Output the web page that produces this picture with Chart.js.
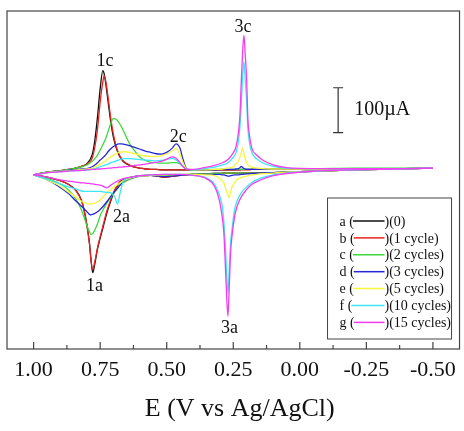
<!DOCTYPE html>
<html lang="en">
<head>
<meta charset="UTF-8">
<title>Cyclic voltammograms</title>
<style>
    body { margin: 0; background: #fff; }
    .chart-container { position: relative; width: 464px; height: 431px; }
</style>
<script src="https://cdn.jsdelivr.net/npm/chart.js"></script>
</head>
<body>
<div class="chart-container"><canvas id="plot"></canvas></div>
<script>
// potentials (V) for the forward (upper) and reverse (lower) branches
const upperE = [1.00, 0.96, 0.92, 0.88, 0.85, 0.82, 0.80, 0.78, 0.77, 0.76,
    0.75, 0.74, 0.735, 0.73, 0.72, 0.71, 0.70, 0.69, 0.68, 0.67,
    0.66, 0.64, 0.62, 0.60, 0.58, 0.56, 0.54, 0.52, 0.50, 0.48,
    0.465, 0.45, 0.44, 0.43, 0.42, 0.40, 0.36, 0.32, 0.29, 0.27,
    0.25, 0.24, 0.23, 0.225, 0.22, 0.215, 0.21, 0.205, 0.20, 0.195,
    0.19, 0.18, 0.16, 0.14, 0.10, 0.05, -0.05, -0.20, -0.35, -0.50];
const lowerE = [-0.50, -0.35, -0.20, -0.05, 0.05, 0.10, 0.15, 0.18, 0.20, 0.22,
    0.235, 0.245, 0.255, 0.26, 0.265, 0.27, 0.275, 0.28, 0.285, 0.29,
    0.30, 0.32, 0.35, 0.40, 0.45, 0.51, 0.56, 0.60, 0.63, 0.65,
    0.665, 0.675, 0.685, 0.695, 0.71, 0.725, 0.74, 0.75, 0.76, 0.77,
    0.778, 0.785, 0.79, 0.80, 0.81, 0.82, 0.84, 0.87, 0.91, 0.95,
    1.00];

// currents (uA)
const upperA = [-7, -2, 1, 4, 7, 12, 18, 38, 70, 122,
    185, 225, 218, 200, 155, 110, 76, 54, 38, 28,
    21, 14, 10, 8, 6, 5, 5, 4, 4, 4,
    4, 4, 4, 4, 4, 4, 4, 4, 4, 4,
    4, 4, 4, 4, 5, 5, 5, 5, 5, 5,
    5, 5, 5, 5, 6, 6, 7, 7, 7, 8];
const lowerA = [8, 6, 4, 1, -1, -2, -3, -3, -3, -3,
    -3, -3, -3, -3, -3, -3, -3, -3, -3, -3,
    -4, -4, -5, -6, -8, -12, -8, -9, -12, -15,
    -18, -23, -32, -42, -65, -92, -126, -148, -172, -205,
    -225, -192, -160, -118, -86, -64, -42, -28, -18, -12,
    -7];
const upperB = [-7, -2, 1, 4, 7, 12, 17, 30, 55, 95,
    155, 200, 214, 205, 165, 118, 82, 57, 40, 29,
    22, 15, 10, 8, 6, 5, 5, 4, 4, 4,
    4, 4, 4, 4, 4, 4, 4, 4, 4, 4,
    4, 4, 4, 4, 4, 4, 4, 4, 4, 4,
    4, 5, 5, 5, 5, 6, 6, 7, 7, 8];
const lowerB = [8, 6, 4, 1, -1, -2, -3, -3, -3, -3,
    -3, -3, -3, -3, -3, -3, -3, -3, -3, -3,
    -4, -4, -5, -6, -8, -12, -8, -9, -12, -15,
    -18, -22, -30, -40, -62, -88, -122, -145, -170, -200,
    -218, -195, -162, -120, -88, -65, -43, -28, -18, -12,
    -7];
const upperC = [-7, -2, 1, 4, 7, 11, 15, 23, 29, 37,
    48, 60, 66, 73, 90, 108, 119, 117, 110, 100,
    88, 63, 46, 32, 25, 21, 20, 19, 19, 20,
    20, 17, 12, 7, 5, 4, 4, 5, 5, 5,
    5, 5, 5, 5, 5, 5, 5, 5, 5, 5,
    5, 5, 5, 5, 6, 7, 7, 8, 8, 8];
const lowerC = [8, 6, 4, 1, -1, -2, -3, -3, -3, -3,
    -3, -3, -3, -3, -3, -3, -3, -3, -3, -3,
    -4, -4, -5, -5, -7, -9, -8, -10, -15, -20,
    -25, -29, -37, -45, -57, -70, -86, -98, -116, -130,
    -138, -140, -134, -120, -102, -86, -62, -40, -24, -15,
    -7];
const upperD = [-7, -3, 0, 2, 4, 6, 7, 11, 15, 20,
    26, 31, 34, 37, 45, 51, 56, 60, 62, 62,
    61, 58, 54, 50, 46, 43, 40, 39, 43, 52,
    62, 52, 30, 12, 5, 4, 4, 4, 5, 5,
    5, 6, 7, 9, 12, 10, 7, 6, 5, 5,
    5, 5, 5, 5, 5, 6, 7, 7, 7, 8];
const lowerD = [8, 6, 4, 1, -1, -2, -3, -4, -5, -6,
    -7, -7, -8, -9, -10, -10, -9, -8, -7, -7,
    -6, -6, -6, -6, -8, -11, -8, -10, -14, -18,
    -23, -30, -37, -44, -55, -67, -78, -84, -89, -93,
    -95, -96, -95, -89, -83, -77, -66, -48, -31, -18,
    -7];
const upperE5 = [-7, -3, 0, 2, 3, 5, 6, 8, 11, 14,
    17, 20, 22, 24, 29, 33, 37, 40, 43, 44,
    45, 43, 40, 37, 35, 34, 34, 36, 40, 46,
    52, 38, 22, 10, 6, 4, 4, 5, 6, 8,
    11, 17, 25, 33, 43, 53, 40, 28, 21, 16,
    13, 10, 8, 7, 6, 6, 6, 7, 7, 8];
const lowerE5 = [8, 6, 4, 1, -1, -3, -5, -7, -10, -13,
    -17, -24, -35, -44, -58, -52, -45, -35, -26, -21,
    -15, -9, -7, -6, -6, -7, -8, -10, -13, -17,
    -21, -25, -29, -33, -40, -47, -57, -63, -67, -70,
    -71, -72, -72, -71, -69, -66, -57, -45, -29, -18,
    -7];
const upperF = [-7, -3, -1, 1, 2, 3, 4, 5, 7, 9,
    11, 13, 14, 15, 17, 20, 22, 24, 26, 28,
    29, 29, 28, 27, 26, 25, 24, 25, 27, 30,
    26, 19, 12, 7, 5, 4, 7, 10, 15, 20,
    32, 42, 70, 100, 150, 210, 245, 205, 160, 95,
    68, 42, 28, 20, 12, 8, 7, 7, 7, 8];
const lowerF = [8, 6, 4, 1, -3, -7, -15, -24, -34, -47,
    -64, -84, -130, -158, -215, -270, -225, -160, -115, -82,
    -56, -28, -14, -8, -6, -6, -7, -9, -12, -15,
    -24, -47, -72, -56, -47, -46, -45, -44, -44, -44,
    -44, -44, -44, -44, -44, -43, -39, -34, -25, -17,
    -7];
const upperG = [-7, -3, -1, 1, 2, 3, 4, 5, 5, 6,
    6, 7, 7, 7, 8, 8, 9, 9, 10, 10,
    11, 12, 14, 15, 17, 19, 21, 23, 28, 33,
    30, 20, 12, 7, 5, 5, 9, 14, 20, 27,
    42, 55, 90, 125, 200, 265, 304, 260, 210, 116,
    85, 52, 36, 26, 15, 9, 7, 7, 7, 8];
const lowerG = [8, 6, 4, 1, -4, -9, -19, -28, -40, -56,
    -76, -100, -145, -180, -255, -322, -275, -205, -140, -108,
    -70, -33, -16, -8, -6, -6, -7, -9, -12, -14,
    -16, -18, -21, -24, -30, -36, -32, -30, -29, -28,
    -27, -27, -26, -26, -25, -25, -23, -21, -17, -12,
    -7];

const seriesKeys = ['a', 'b', 'c', 'd', 'e', 'f', 'g'];
const seriesNotes = ['(0)', '(1 cycle)', '(2 cycles)', '(3 cycles)', '(5 cycles)', '(10 cycles)', '(15 cycles)'];
const seriesColors = ['#111111', '#e8231f', '#3cd93c', '#2626d6', '#f7f73a', '#3ae6f7', '#f23df2'];
const upperSets = [upperA, upperB, upperC, upperD, upperE5, upperF, upperG];
const lowerSets = [lowerA, lowerB, lowerC, lowerD, lowerE5, lowerF, lowerG];

const majorTicks = [1.00, 0.75, 0.50, 0.25, 0.00, -0.25, -0.50];
const minorTicks = [0.875, 0.625, 0.375, 0.125, -0.125, -0.375];

// peak labels placed at (E, I)
const peakNames = ['1c', '2c', '3c', '1a', '2a', '3a'];
const peakE = [0.732, 0.457, 0.213, 0.771, 0.670, 0.264];
const peakI = [247, 77, 321, -256, -102, -348];

// 100 uA scale bar
const scaleBarE = -0.144;
const scaleBarFrom = 87;
const scaleBarTo = 187;
const scaleBarText = '100\u00b5A';

const serif = '"Liberation Serif", "Times New Roman", serif';

const datasets = [];
seriesKeys.forEach((k, i) => {
    [[upperE, upperSets[i]], [lowerE, lowerSets[i]]].forEach(([es, is]) => {
        datasets.push({
            data: es.map((e, j) => ({ x: e, y: is[j] })),
            showLine: true,
            borderColor: seriesColors[i],
            borderWidth: 1.3,
            pointRadius: 0,
            cubicInterpolationMode: 'monotone',
            fill: false,
            order: seriesKeys.length - i
        });
    });
});

const decorations = {
    id: 'decorations',
    afterDatasetsDraw(chart) {
        const ctx = chart.ctx;
        const area = chart.chartArea;
        const xs = chart.scales.x;
        const ys = chart.scales.y;
        ctx.save();

        // frame and inward ticks
        ctx.strokeStyle = '#444';
        ctx.lineWidth = 1.2;
        ctx.strokeRect(area.left, area.top, area.right - area.left, area.bottom - area.top);
        ctx.beginPath();
        majorTicks.forEach(v => {
            const px = xs.getPixelForValue(v);
            ctx.moveTo(px, area.bottom);
            ctx.lineTo(px, area.bottom - 7);
        });
        minorTicks.forEach(v => {
            const px = xs.getPixelForValue(v);
            ctx.moveTo(px, area.bottom);
            ctx.lineTo(px, area.bottom - 4);
        });
        ctx.stroke();

        // peak labels
        ctx.fillStyle = '#111';
        ctx.font = '18px ' + serif;
        ctx.textAlign = 'center';
        ctx.textBaseline = 'middle';
        peakNames.forEach((t, i) => {
            ctx.fillText(t, xs.getPixelForValue(peakE[i]), ys.getPixelForValue(peakI[i]));
        });

        // scale bar
        const bx = xs.getPixelForValue(scaleBarE);
        const y1 = ys.getPixelForValue(scaleBarTo);
        const y2 = ys.getPixelForValue(scaleBarFrom);
        ctx.strokeStyle = '#333';
        ctx.beginPath();
        ctx.moveTo(bx, y1); ctx.lineTo(bx, y2);
        ctx.moveTo(bx - 5, y1); ctx.lineTo(bx + 5, y1);
        ctx.moveTo(bx - 5, y2); ctx.lineTo(bx + 5, y2);
        ctx.stroke();
        ctx.font = '20px ' + serif;
        ctx.textAlign = 'left';
        ctx.fillText(scaleBarText, bx + 16, (y1 + y2) / 2);

        // legend box
        const boxW = 124, boxH = 141;
        const bxr = area.right - 8, byb = area.bottom - 10;
        const lx = bxr - boxW, ly = byb - boxH;
        ctx.strokeStyle = '#444';
        ctx.lineWidth = 1;
        ctx.strokeRect(lx, ly, boxW, boxH);
        ctx.font = '14px ' + serif;
        seriesKeys.forEach((k, i) => {
            const ty = ly + 24 + i * 16.9;
            const start = k + ' (';
            ctx.fillStyle = '#111';
            ctx.fillText(start, lx + 12, ty);
            const sx = lx + 12 + ctx.measureText(start).width - 1;
            ctx.strokeStyle = seriesColors[i];
            ctx.lineWidth = 1.5;
            ctx.beginPath();
            ctx.moveTo(sx, ty - 1);
            ctx.lineTo(lx + 57, ty - 1);
            ctx.stroke();
            ctx.fillText(')' + seriesNotes[i], lx + 57, ty);
        });

        ctx.restore();
    }
};

new Chart(document.getElementById('plot'), {
    type: 'scatter',
    data: { datasets: datasets },
    options: {
        responsive: true,
        maintainAspectRatio: false,
        animation: false,
        layout: { padding: { left: 7, right: 3, top: 11, bottom: 0 } },
        plugins: {
            legend: { display: false },
            tooltip: { enabled: false }
        },
        scales: {
            x: {
                type: 'linear',
                reverse: true,
                min: -0.6,
                max: 1.1,
                afterBuildTicks: (scale) => { scale.ticks = majorTicks.map(v => ({ value: v })); },
                afterFit: (scale) => { scale.height = 82; },
                grid: { display: false, drawTicks: false },
                border: { display: false },
                ticks: {
                    autoSkip: false,
                    maxRotation: 0,
                    padding: 8,
                    color: '#111',
                    font: { family: serif, size: 22 },
                    callback: (v) => Number(v).toFixed(2)
                },
                title: {
                    display: true,
                    text: '  E (V vs Ag/AgCl)',
                    color: '#111',
                    font: { family: serif, size: 26 },
                    padding: { top: 0, bottom: 6 }
                }
            },
            y: {
                display: false,
                min: -395,
                max: 358
            }
        }
    },
    plugins: [decorations]
});
</script>
</body>
</html>
